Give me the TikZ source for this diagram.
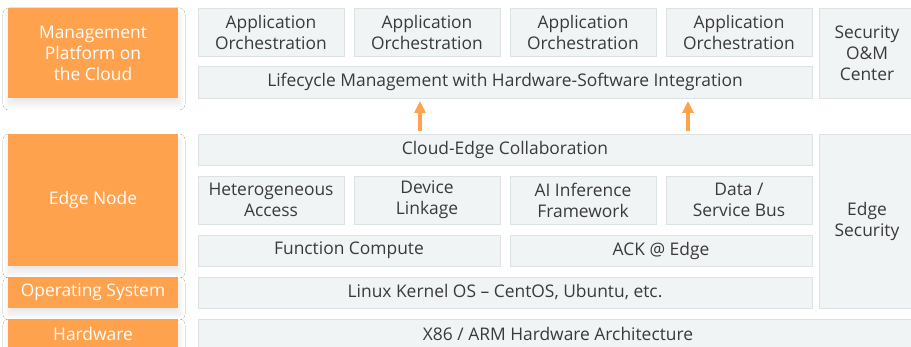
\documentclass[tikz,border=0pt]{standalone}
\usepackage{fontspec}
\setmainfont{Open Sans}
\usepackage{tikz}
\usetikzlibrary{positioning,arrows.meta,shadows.blur}

\definecolor{orng}{HTML}{FFA24E}
\definecolor{pale}{HTML}{F1F4F5}
\definecolor{rim}{HTML}{DCE1E3}
\definecolor{ink}{HTML}{3A3A3A}

\begin{document}
\begin{tikzpicture}[
  x=1pt, y=1pt,
  font=\fontsize{17.4}{21}\selectfont,
  lyr/.style={fill=orng, text=white, anchor=north west, inner sep=0pt, outer sep=0pt,
              align=center, minimum width=170pt,
              blur shadow={shadow xshift=1pt, shadow yshift=-6pt, shadow blur radius=6pt,
                           shadow blur steps=24, shadow opacity=10}},
  cell/.style={fill=pale, draw=rim, line width=0.7pt, text=ink, anchor=north west,
               inner sep=0pt, outer sep=0pt, align=center},
  up/.style={-{Triangle[length=12pt, width=11pt]}, line width=4pt, draw=orng,
             shorten <=3pt, shorten >=3pt}
]
\path[use as bounding box, fill=white] (0,0) rectangle (911,-347);

% cloud side
\node[lyr, minimum height=90pt] (mgmt) at (8,-8) {Management\\Platform on\\the Cloud};
\node[cell, minimum width=146pt, minimum height=48pt] (app1) at (198,-8) {Application\\Orchestration};
\node[cell, minimum width=146pt, minimum height=48pt, right=10pt of app1] (app2) {Application\\Orchestration};
\node[cell, minimum width=146pt, minimum height=48pt, right=10pt of app2] (app3) {Application\\Orchestration};
\node[cell, minimum width=146pt, minimum height=48pt, right=10pt of app3] (app4) {Application\\Orchestration};
\node[cell, minimum width=614pt, minimum height=32pt] (life) at (198,-66) {Lifecycle Management with Hardware-Software Integration};
\node[cell, minimum width=96pt, minimum height=90pt] (secom) at (819,-8) {Security\\O\&M\\Center};

% edge side
\node[lyr, minimum height=132pt] (edgenode) at (8,-134) {Edge Node};
\node[cell, minimum width=614pt, minimum height=31pt] (collab) at (198,-134) {Cloud-Edge Collaboration};
\node[cell, minimum width=146pt, minimum height=48pt] (hetero) at (198,-176) {Heterogeneous\\Access};
\node[cell, minimum width=146pt, minimum height=48pt, right=10pt of hetero] (device) {Device\\Linkage};
\node[cell, minimum width=146pt, minimum height=48pt, right=10pt of device] (aiinf) {AI Inference\\Framework};
\node[cell, minimum width=146pt, minimum height=48pt, right=10pt of aiinf] (bus) {Data /\\Service Bus};
\node[cell, minimum width=302pt, minimum height=31pt] (fc) at (198,-235) {Function Compute};
\node[cell, minimum width=302pt, minimum height=31pt, right=10pt of fc] (ack) {ACK @ Edge};
\node[cell, minimum width=96pt, minimum height=174pt] (edgesec) at (819,-134) {Edge\\Security};

% os and hardware
\node[lyr, minimum height=31pt] (os) at (8,-277) {Operating System};
\node[cell, minimum width=614pt, minimum height=31pt] (linux) at (198,-277) {Linux Kernel OS -- CentOS, Ubuntu, etc.};
\node[lyr, minimum height=30pt] (hw) at (8,-319) {Hardware};
\node[cell, minimum width=720pt, minimum height=30pt] (x86) at (198,-319) {X86 / ARM Hardware Architecture};

% arrows
\coordinate (lane1) at (420,0);
\coordinate (lane2) at (688,0);
\draw[up] (collab.north -| lane1) -- (life.south -| lane1);
\draw[up] (collab.north -| lane2) -- (life.south -| lane2);
\end{tikzpicture}
\end{document}
